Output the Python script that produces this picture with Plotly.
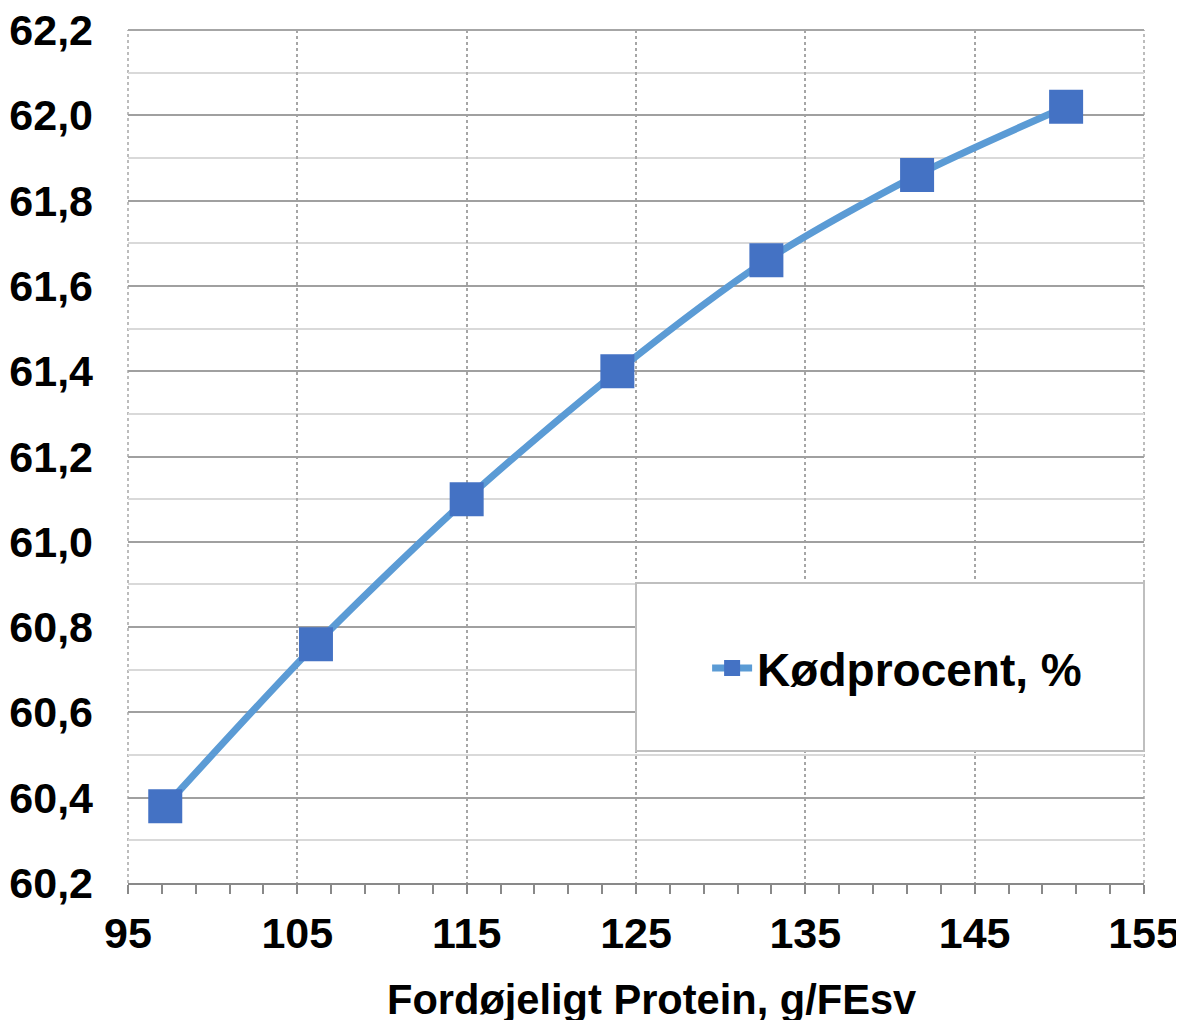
import plotly.graph_objects as go

protein = [97.2, 106.1, 115.0, 123.9, 132.7, 141.6, 150.4]
kodprocent = [60.38, 60.76, 61.10, 61.40, 61.66, 61.86, 62.02]
series_name = "Kødprocent, %"
x_title = "Fordøjeligt Protein, g/FEsv"

FONT = "Arial, Liberation Sans, sans-serif"

fig = go.Figure()
fig.add_trace(go.Scatter(
    x=protein, y=kodprocent, name=series_name, mode="lines+markers",
    line=dict(color="#5B9BD5", width=7, shape="spline", smoothing=0.8),
    marker=dict(symbol="square", size=34, color="#4472C4"),
))

fig.update_layout(
    width=1176, height=1012,
    margin=dict(l=120, r=40, t=22, b=137, autoexpand=False),
    paper_bgcolor="white", plot_bgcolor="white",
    separators=",.",
    font=dict(family=FONT, color="black"),
    showlegend=True,
    legend=dict(
        x=0.757, y=0.252, xanchor="center", yanchor="middle",
        font=dict(family=FONT, size=46, color="black", weight="bold"),
        bgcolor="rgba(0,0,0,0)", borderwidth=0,
        itemwidth=40,
    ),
    xaxis=dict(
        range=[95, 155], tick0=95, dtick=10, automargin=False,
        showgrid=True, gridcolor="#a6a6a6", gridwidth=1.5, griddash="dot",
        showline=True, linecolor="#898989", linewidth=1.5,
        ticks="outside", ticklen=9, tickcolor="#898989", tickwidth=1.5,
        minor=dict(tick0=95, dtick=2, ticks="outside", ticklen=9, tickcolor="#898989", tickwidth=1.5, showgrid=False),
        tickfont=dict(family=FONT, size=43, color="black", weight="bold"),
        ticklabelstandoff=3, ticklabeloverflow="allow",
        zeroline=False, mirror=False,
    ),
    xaxis2=dict(
        range=[95, 155], overlaying="x", anchor="y", side="bottom",
        tick0=95, dtick=2, ticks="inside", ticklen=9, tickcolor="#898989", tickwidth=1.5,
        showticklabels=False, showgrid=False, showline=False, zeroline=False,
    ),
    yaxis=dict(
        range=[60.2, 62.2], tick0=60.2, dtick=0.2, tickformat=".1f", automargin=False,
        showgrid=True, gridcolor="#a0a0a0", gridwidth=1.5,
        minor=dict(dtick=0.1, showgrid=True, gridcolor="#d9d9d9", gridwidth=2),
        showline=False, ticks="", zeroline=False,
        tickfont=dict(family=FONT, size=43, color="black", weight="bold"),
        ticklabelstandoff=34, ticklabeloverflow="allow",
    ),
    annotations=[dict(
        text=x_title, xref="paper", yref="paper", x=0.5148, y=0,
        xanchor="center", yanchor="middle", yshift=-116, showarrow=False,
        font=dict(family=FONT, size=41.6, color="black", weight="bold"),
    )],
    shapes=[
        dict(type="line", xref="paper", yref="paper", x0=0, x1=1, y0=1, y1=1,
             line=dict(color="#898989", width=1.5), layer="below"),
        dict(type="line", xref="paper", yref="paper", x0=0, x1=0, y0=0, y1=1,
             line=dict(color="#a6a6a6", width=1.5, dash="dot"), layer="below"),
        dict(type="line", xref="paper", yref="paper", x0=1, x1=1, y0=0, y1=1,
             line=dict(color="#a6a6a6", width=1.5, dash="dot"), layer="below"),
        dict(type="rect", xref="paper", yref="paper", x0=0.5, x1=1.0, y0=0.1547, y1=0.3517,
             line=dict(color="#bfbfbf", width=2), fillcolor="white", layer="above"),
    ],
)

fig.write_html("out.html")
